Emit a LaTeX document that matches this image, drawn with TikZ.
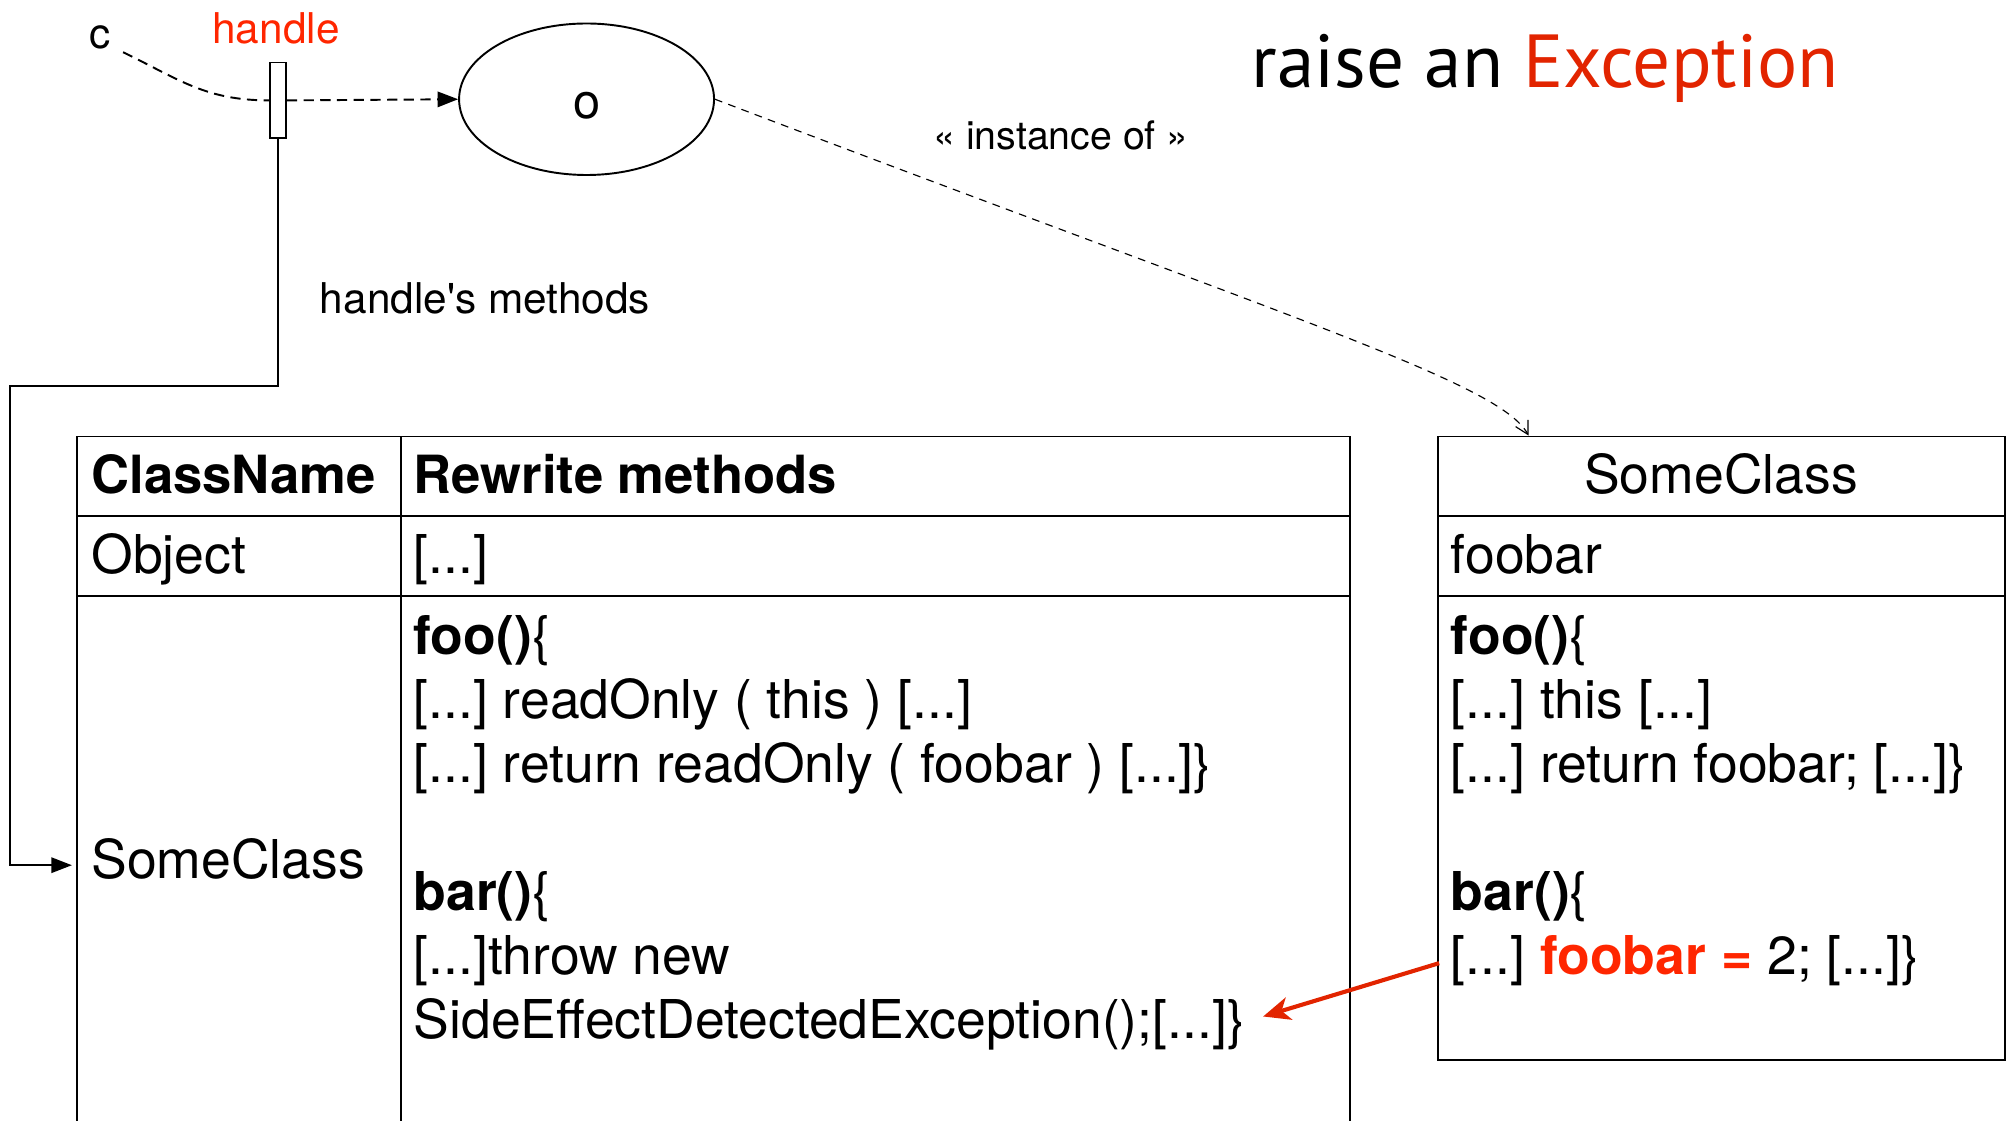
\documentclass[tikz,border=0pt]{standalone}
\usepackage{fontspec}
\setmainfont{TeX Gyre Heros}
\newfontfamily\plainhv{TeX Gyre Heros}[Ligatures=TeXOff]
\newfontfamily\titlefont{PT Sans}
\usetikzlibrary{arrows.meta,shapes.geometric}
\definecolor{hred}{RGB}{255,38,0}
\definecolor{tred}{RGB}{226,36,0}
\newcommand\bodyfont{\fontsize{41.7}{50}\selectfont\frenchspacing}
\newcommand\labelfont{\fontsize{33}{40}\selectfont}

\begin{document}
\begin{tikzpicture}[x=1pt,y=-1pt,
  rule/.style={line width=1.5pt},
  ln/.style={anchor=base west, inner sep=0pt, font=\bodyfont},
  lbl/.style={inner sep=0pt, font=\labelfont},
  solidarrow/.style={-{Triangle[length=16pt,width=12pt]}},
]
\useasboundingbox (0,0) rectangle (1568,873);
\clip (0,0) rectangle (1568,873);

% heading
\node[anchor=base west, inner sep=0pt] (title) at (975,68)
  {\resizebox{457pt}{!}{\titlefont raise an \textcolor{tred}{Exception}}};

% reference c, its handle and the object o
\node[lbl, anchor=base west] (c) at (69.5,37.4) {c};
\node[lbl, anchor=base, text=hred] (hlabel) at (215,33.5) {handle};
\node[draw, fill=white, line width=1.2pt, minimum width=12.5pt,
      minimum height=59pt, inner sep=0pt] (hbox) at (216.6,78.2) {};
\node[draw, ellipse, line width=1.5pt, minimum width=198.6pt,
      minimum height=118pt, inner sep=0pt, font=\fontsize{38}{44}\selectfont,
      text height=30pt, text depth=0pt] (o) at (456.9,77.3) {o};

\draw[rule, dash pattern=on 8pt off 5pt]
  ([shift={(9.5,2.6)}]c.south east) .. controls (140,62) and (160,78.2) .. (hbox.west);
\draw[rule, dash pattern=on 8pt off 5pt, solidarrow] (hbox.east) -- (o.west);

% class table (rewritten methods)
\draw[rule] (60,880) -- (60,340) -- (1051.6,340) -- (1051.6,880);
\draw[rule] (60,402) -- (1051.6,402);
\draw[rule] (60,464) -- (1051.6,464);
\draw[rule] (312,340) -- (312,880);

\node[ln, font=\fontsize{41}{50}\selectfont\bfseries] (hcn) at (71,384.6) {ClassName};
\node[ln, font=\fontsize{41}{50}\selectfont\bfseries] (hrw) at (322,384.6) {Rewrite methods};
\node[ln] (obj) at (71,447) {Object};
\node[ln] (objm) at (322,447) {[...]};
\node[ln, text depth=10pt] (lsc) at (71,684.5) {SomeClass};
\node[ln] (l1) at (322,510) {\textbf{foo()}\{};
\node[ln] (l2) at (322,559.8) {[...] readOnly ( this ) [...]};
\node[ln] (l3) at (322,609.6) {[...] return readOnly ( foobar ) [...]\}};
\node[ln] (l4) at (322,709.2) {\textbf{bar()}\{};
\node[ln] (l5) at (322,759) {[...]throw new};
\node[ln] (sfx) at (322,808.8) {SideEffectDetectedException();[...]\}};

% handle's methods link
\draw[rule, solidarrow] (hbox.south) -- (216.6,301) -- (7.7,301)
  |- ([xshift=-15pt]lsc.west);
\node[lbl, anchor=base west] (hm) at (249,244) {\plainhv handle's methods};

% original class
\node[draw, rule, minimum width=442pt, minimum height=485.8pt,
      inner sep=0pt] (cls) at (1341,582.9) {};
\draw[rule] (1120,402) -- (1562,402);
\draw[rule] (1120,464) -- (1562,464);
\node[ln, anchor=base] (cname) at (1340.6,384.6) {SomeClass};
\node[ln] (fld) at (1130,447) {foobar};
\node[ln] (r1) at (1130,510) {\textbf{foo()}\{};
\node[ln] (r2) at (1130,559.8) {[...] this [...]};
\node[ln] (r3) at (1130,609.6) {[...] return foobar; [...]\}};
\node[ln] (r4) at (1130,709.2) {\textbf{bar()}\{};
\node[ln] (wr) at (1130,759) {[...] \textcolor{hred}{\bfseries foobar =} 2; [...]\}};

% instance-of relation
\draw[line width=0.9pt, dash pattern=on 6pt off 5pt,
      -{Straight Barb[length=10pt,width=11pt]}]
  (o.east) .. controls (1010,250) and (1168,298) .. ([xshift=71.4pt]cls.north west);
\node[inner sep=0pt, anchor=base west, font=\fontsize{30.6}{36}\selectfont]
  (inst) at (726.8,116.8) {« instance of »};

% the write raises the exception
\draw[tred, line width=3.2pt, -{Stealth[length=21pt,width=18pt,inset=6pt]}]
  ([xshift=-9pt,yshift=-2pt]wr.west) -- ([xshift=14pt,yshift=6pt]sfx.east);
\end{tikzpicture}
\end{document}
